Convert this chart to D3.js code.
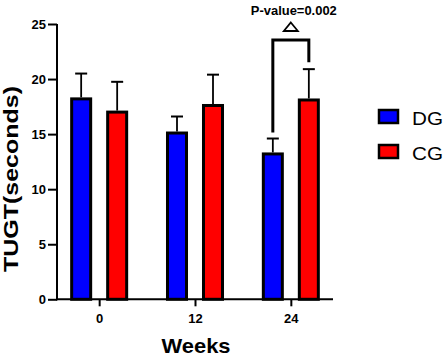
<!DOCTYPE html>
<html><head><meta charset="utf-8">
<script src="https://cdn.jsdelivr.net/npm/d3@7"></script>
<style>
html,body{margin:0;padding:0;background:#fff;}
text{font-family:"Liberation Sans",Arial,Helvetica,sans-serif;}
</style></head>
<body><svg id="c" width="446" height="357"></svg>
<script>
const weeks = ["0","12","24"];
const groups = ["DG","CG"];
const meanDG = [18.2, 15.1, 13.2];
const meanCG = [17.0, 17.6, 18.1];
const sdDG = [2.3, 1.5, 1.4];
const sdCG = [2.75, 2.8, 2.8];
const yTicks = [0,5,10,15,20,25];
const colors = {DG:"#0000ff", CG:"#ff0000"};
const pLabel = "P-value=0.002";

const data = [];
weeks.forEach((w,i)=>{
  data.push({week:w, group:"DG", mean:meanDG[i], sd:sdDG[i]});
  data.push({week:w, group:"CG", mean:meanCG[i], sd:sdCG[i]});
});

const svg = d3.select("#c");
const pLeft=57, pRight=333, pTop=24, pBottom=299.3;
const y = d3.scaleLinear().domain([0,25]).range([pBottom, pTop]);
const x0 = d3.scalePoint().domain(weeks).range([pLeft,pRight]).padding(0.44);
const x1 = d3.scaleBand().domain(groups).range([-36,36]).paddingInner(0.472).paddingOuter(0.236);

// bars
const g = svg.append("g");
g.selectAll("rect.bar").data(data).enter().append("rect")
  .attr("x", d=>x0(d.week)+x1(d.group))
  .attr("width", x1.bandwidth())
  .attr("y", d=>y(d.mean))
  .attr("height", d=>y(0)-y(d.mean))
  .attr("fill", d=>colors[d.group])
  .attr("stroke","#000").attr("stroke-width",3);

// error bars (upper)
const eb = g.selectAll("g.eb").data(data).enter().append("g");
eb.append("line")
  .attr("x1", d=>x0(d.week)+x1(d.group)+x1.bandwidth()/2)
  .attr("x2", d=>x0(d.week)+x1(d.group)+x1.bandwidth()/2)
  .attr("y1", d=>y(d.mean)-1.5)
  .attr("y2", d=>y(d.mean+d.sd))
  .attr("stroke","#000").attr("stroke-width",1.8);
eb.append("line")
  .attr("x1", d=>x0(d.week)+x1(d.group)+x1.bandwidth()/2-6)
  .attr("x2", d=>x0(d.week)+x1(d.group)+x1.bandwidth()/2+6)
  .attr("y1", d=>y(d.mean+d.sd))
  .attr("y2", d=>y(d.mean+d.sd))
  .attr("stroke","#000").attr("stroke-width",2);

// axes
const yAxis = svg.append("g").attr("transform",`translate(${pLeft},0)`)
  .call(d3.axisLeft(y).tickValues(yTicks).tickSize(9).tickPadding(2).tickSizeOuter(0));
const xAxis = svg.append("g").attr("transform",`translate(0,${pBottom})`)
  .call(d3.axisBottom(x0).tickSize(7).tickPadding(7).tickSizeOuter(0));
[yAxis,xAxis].forEach(a=>{
  a.select(".domain").attr("stroke","#000").attr("stroke-width",2);
  a.selectAll(".tick line").attr("stroke","#000").attr("stroke-width",2);
  a.selectAll("text").attr("fill","#000").style("font-weight","bold").style("font-size","13px")
   .style("font-family",'"Liberation Sans",Arial,sans-serif');
});
yAxis.select(".domain").attr("d",`M0,${pBottom+1}V${pTop}`);
xAxis.select(".domain").attr("d",`M${pLeft-1},0H${pRight}`);

// axis titles
svg.append("text").attr("transform",`translate(18,179) rotate(-90)`)
  .attr("text-anchor","middle").style("font-weight","bold").style("font-size","21px")
  .attr("textLength",186).attr("lengthAdjust","spacingAndGlyphs")
  .text("TUGT(seconds)");
svg.append("text").attr("x",x0("12")+1).attr("y",353)
  .attr("text-anchor","middle").style("font-weight","bold").style("font-size","21px")
  .attr("textLength",69).attr("lengthAdjust","spacingAndGlyphs")
  .text("Weeks");

// significance bracket
const xd = x0("24")+x1("DG")+x1.bandwidth()/2;
const xc = x0("24")+x1("CG")+x1.bandwidth()/2;
const yb = 40;
svg.append("path")
  .attr("d",`M${xd},${y(meanDG[2]+sdDG[2])-6}V${yb}H${xc}V${y(meanCG[2]+sdCG[2])-7}`)
  .attr("fill","none").attr("stroke","#000").attr("stroke-width",3);
const tx = (xd+xc)/2;
svg.append("path")
  .attr("d",`M${tx},22.5L${tx+7},31L${tx-7},31Z`)
  .attr("fill","#fff").attr("stroke","#000").attr("stroke-width",1.8).attr("stroke-linejoin","miter");
svg.append("text").attr("x",tx+3).attr("y",15).attr("text-anchor","middle")
  .style("font-weight","bold").style("font-size","12px")
  .attr("textLength",86).attr("lengthAdjust","spacingAndGlyphs")
  .text(pLabel);

// legend
const lg = svg.append("g").selectAll("g").data(groups).enter().append("g")
  .attr("transform",(d,i)=>`translate(379,${110+i*35})`);
lg.append("rect").attr("width",19).attr("height",13)
  .attr("fill",d=>colors[d]).attr("stroke","#000").attr("stroke-width",2.5);
lg.append("text").attr("x",33).attr("y",14.5).style("font-size","17.5px")
  .attr("textLength",31).attr("lengthAdjust","spacingAndGlyphs").text(d=>d);
</script></body></html>
